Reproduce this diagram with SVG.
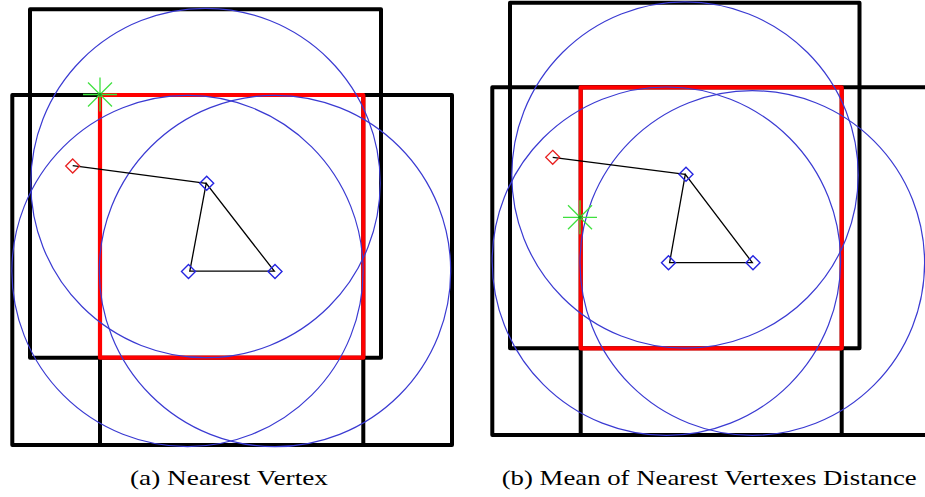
<svg xmlns="http://www.w3.org/2000/svg" width="925" height="497" viewBox="0 0 925 497">
<style>
.sq{fill:none;stroke:#000;stroke-width:4;stroke-linejoin:round;stroke-linecap:round}
.inter{fill:none;stroke:#ff0000;stroke-width:4.2;stroke-linejoin:round}
.circ{fill:none;stroke:#3a3ad2;stroke-width:1.2}
.edge{fill:none;stroke:#000;stroke-width:1.3}
.vtx{fill:none;stroke:#2424e0;stroke-width:1.4}
.qry{fill:none;stroke:#e82020;stroke-width:1.3}
.star line{stroke:#3ee03e;stroke-width:1.3}
.cap{font-family:"Liberation Serif","Times New Roman",serif;font-size:22px;fill:#000}
</style>
<defs>
<path id="dia" d="M0,-7 L7,0 L0,7 L-7,0 Z"/>
<g id="starshape" class="star">
<line x1="0" y1="-17" x2="0" y2="17"/>
<line x1="-17" y1="0" x2="17" y2="0"/>
<line x1="-12" y1="-12" x2="12" y2="12"/>
<line x1="-12" y1="12" x2="12" y2="-12"/>
<circle r="1.8" fill="#1aa01a" stroke="none"/>
</g>
</defs>
<rect width="925" height="497" fill="#fff"/>

<!-- Panel (a) -->
<g id="panel-a">
<g id="a-squares">
<rect class="sq" x="30" y="9.3" width="351" height="348.4"/>
<rect class="sq" x="12.3" y="95" width="351" height="350"/>
<rect class="sq" x="100" y="95" width="352" height="350"/>
</g>
<g id="a-intersection">
<rect class="inter" x="100" y="95" width="263.3" height="262.7"/>
</g>
<g id="a-circles">
<circle class="circ" cx="205.5" cy="183" r="174.7"/>
<circle class="circ" cx="187.5" cy="271" r="175.6"/>
<circle class="circ" cx="275" cy="271" r="175.7"/>
</g>
<g id="a-connectors">
<line class="edge" x1="72.7" y1="165.7" x2="206.2" y2="183.3"/>
<polygon class="edge" points="206.2,183.3 189.8,271.2 274.3,271.2"/>
</g>
<g id="a-v1"><use href="#dia" class="vtx" x="206.7" y="183.3"/></g>
<g id="a-v2"><use href="#dia" class="vtx" x="188.5" y="271.5"/></g>
<g id="a-v3"><use href="#dia" class="vtx" x="275" y="271.5"/></g>
<g id="a-query"><use href="#dia" class="qry" x="72.7" y="166"/></g>
<g id="a-star"><use href="#starshape" x="100" y="94.5"/></g>
</g>

<!-- Panel (b) -->
<g id="panel-b">
<g id="b-squares">
<rect class="sq" x="510" y="2.7" width="349.5" height="345.6"/>
<rect class="sq" x="492.3" y="87.3" width="349.4" height="347.7"/>
<rect class="sq" x="580.7" y="87.3" width="350" height="347.7"/>
</g>
<g id="b-intersection">
<rect class="inter" x="580.7" y="87.3" width="261" height="261"/>
</g>
<g id="b-circles">
<circle class="circ" cx="685" cy="175" r="173.2"/>
<circle class="circ" cx="666.4" cy="261.2" r="174.2"/>
<circle class="circ" cx="752.3" cy="263" r="172.3"/>
</g>
<g id="b-connectors">
<line class="edge" x1="552.7" y1="157.3" x2="685.3" y2="174.3"/>
<polygon class="edge" points="685.3,174.3 669.6,262.6 752.3,262.6"/>
</g>
<g id="b-v1"><use href="#dia" class="vtx" x="686" y="174.3"/></g>
<g id="b-v2"><use href="#dia" class="vtx" x="668.5" y="262.8"/></g>
<g id="b-v3"><use href="#dia" class="vtx" x="753" y="262.8"/></g>
<g id="b-query"><use href="#dia" class="qry" x="552.7" y="157.3"/></g>
<g id="b-star"><use href="#starshape" x="580" y="217.3"/></g>
</g>

<g id="captions">
<text class="cap" x="130" y="485" textLength="198" lengthAdjust="spacingAndGlyphs">(a) Nearest Vertex</text>
<text class="cap" x="501.7" y="485" textLength="415" lengthAdjust="spacingAndGlyphs">(b) Mean of Nearest Vertexes Distance</text>
</g>
</svg>
